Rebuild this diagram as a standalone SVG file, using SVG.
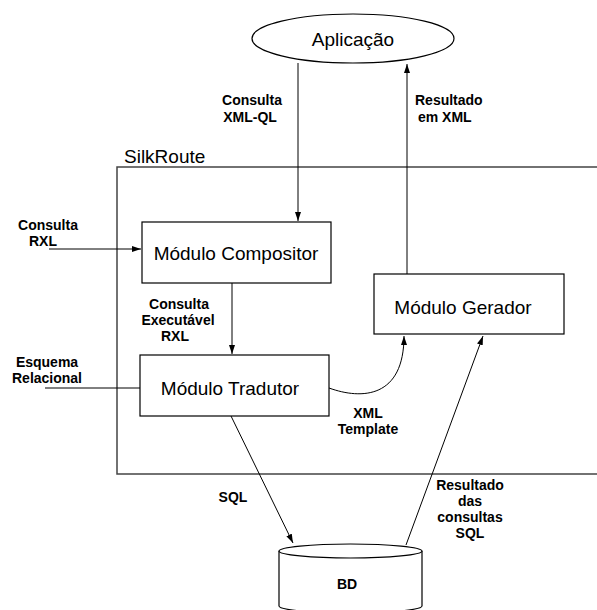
<svg xmlns="http://www.w3.org/2000/svg" width="597" height="610" viewBox="0 0 597 610">
<defs>
<style>
.box{fill:#fff;stroke:#000;stroke-width:1.2}
.ln{fill:none;stroke:#000;stroke-width:1}
.nt{font-family:"Liberation Sans",Arial,sans-serif;font-size:19px;text-anchor:middle;fill:#000}
.lb{font-family:"Liberation Sans",Arial,sans-serif;font-size:14px;font-weight:bold;text-anchor:middle;fill:#000}
</style>
<marker id="ah" markerWidth="9" markerHeight="6" refX="9" refY="3" orient="auto" markerUnits="userSpaceOnUse">
<path d="M0,0 L9,3 L0,6 z" fill="#000"/>
</marker>
</defs>
<g id="silkroute">
<path d="M597,167 H117 V474 H597" fill="none" stroke="#444" stroke-width="1.5"/>
<text x="124" y="163" class="nt" style="text-anchor:start">SilkRoute</text>
</g>
<g id="aplicacao">
<ellipse cx="353" cy="38.5" rx="101" ry="24.5" class="box"/>
<text x="353" y="46" class="nt">Aplicação</text>
</g>
<g id="compositor">
<rect x="142" y="222" width="189" height="61" class="box"/>
<text x="236" y="260" class="nt">Módulo Compositor</text>
</g>
<g id="tradutor">
<rect x="140" y="355" width="189" height="61" class="box"/>
<text x="230" y="395" class="nt">Módulo Tradutor</text>
</g>
<g id="gerador">
<rect x="374" y="274" width="190" height="60" class="box"/>
<text x="463" y="314" class="nt">Módulo Gerador</text>
</g>
<g id="bd">
<path d="M279,551 V606 A71.5,7 0 0 0 422,606 V551" class="box"/>
<ellipse cx="350.5" cy="551" rx="71.5" ry="7" class="box"/>
<text x="347" y="589" class="lb">BD</text>
</g>
<g id="connectors">
<line x1="298" y1="63" x2="298" y2="221" class="ln" marker-end="url(#ah)"/>
<line x1="407" y1="274" x2="407" y2="64" class="ln" marker-end="url(#ah)"/>
<line x1="49" y1="249" x2="141" y2="249" class="ln" marker-end="url(#ah)"/>
<line x1="232" y1="283" x2="232" y2="354" class="ln" marker-end="url(#ah)"/>
<line x1="45" y1="388" x2="140" y2="388" class="ln"/>
<path d="M329,388 C362,400 404,398 404,336" class="ln" marker-end="url(#ah)"/>
<line x1="231" y1="416" x2="293" y2="543" class="ln" marker-end="url(#ah)"/>
<line x1="406" y1="545" x2="483" y2="336" class="ln" marker-end="url(#ah)"/>
</g>
<g id="labels">
<text x="252" y="105" class="lb">Consulta</text>
<text x="250" y="122" class="lb">XML-QL</text>
<text x="415" y="105" class="lb" style="text-anchor:start">Resultado</text>
<text x="418" y="122" class="lb" style="text-anchor:start">em XML</text>
<text x="48" y="230" class="lb">Consulta</text>
<text x="43" y="246" class="lb">RXL</text>
<text x="179" y="309" class="lb">Consulta</text>
<text x="178" y="325" class="lb">Executável</text>
<text x="175" y="341" class="lb">RXL</text>
<text x="47" y="367" class="lb">Esquema</text>
<text x="47" y="383" class="lb">Relacional</text>
<text x="368" y="418" class="lb">XML</text>
<text x="368" y="434" class="lb">Template</text>
<text x="233" y="502" class="lb">SQL</text>
<text x="470" y="490" class="lb">Resultado</text>
<text x="470" y="506" class="lb">das</text>
<text x="470" y="522" class="lb">consultas</text>
<text x="470" y="538" class="lb">SQL</text>
</g>
</svg>
